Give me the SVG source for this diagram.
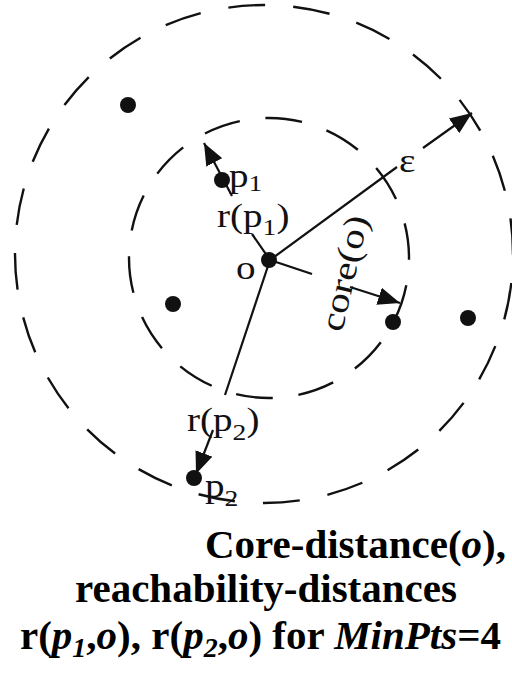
<svg xmlns="http://www.w3.org/2000/svg" width="512" height="673" viewBox="0 0 512 673">
<defs>
<marker id="ah" viewBox="0 0 22 18" refX="22" refY="9" markerWidth="22" markerHeight="18" markerUnits="userSpaceOnUse" orient="auto"><path d="M0,0 L22,9 L0,18 z" fill="#111"/></marker>
</defs>
<style>
.ring{fill:none;stroke:#111;stroke-width:2.4}
.dot{fill:#111}
.ln{stroke:#111;stroke-width:2.2;fill:none}
.lbl{font-family:"Liberation Serif","Times New Roman",serif;font-size:34px;fill:#111}
.sub{font-size:24px}
.cap{font-family:"Liberation Serif","Times New Roman",serif;font-size:41px;font-weight:bold;fill:#000}
.it{font-style:italic}
</style>
<rect width="512" height="673" fill="#fff"/>
<g id="rings">
<circle class="ring" cx="264" cy="254" r="249" stroke-dasharray="37 28.17" stroke-dashoffset="36"/>
<circle class="ring" cx="269" cy="258" r="140" stroke-dasharray="37 25.83" stroke-dashoffset="35.3"/>
</g>
<g id="connectors">
<path class="ln" d="M270,260 L397,167"/>
<path class="ln" d="M423,148 L472,113" marker-end="url(#ah)"/>
<path class="ln" d="M270,260 L312,274"/>
<path class="ln" d="M350,287 L400,303" marker-end="url(#ah)"/>
<path class="ln" d="M270,260 L252,234"/>
<path class="ln" d="M232,196 L204,143" marker-end="url(#ah)"/>
<path class="ln" d="M270,260 L225,395"/>
<path class="ln" d="M213,430 L196,474" marker-end="url(#ah)"/>
</g>
<g id="o">
<circle class="dot" cx="269" cy="260" r="8"/>
<text class="lbl" transform="translate(236,279) scale(1.15,1)">o</text>
</g>
<g id="p1">
<circle class="dot" cx="222" cy="180" r="8"/>
<text class="lbl" transform="translate(229,187) scale(1.15,1)">p<tspan class="sub" dy="4">1</tspan></text>
</g>
<g id="p2">
<circle class="dot" cx="194" cy="478" r="8"/>
<text class="lbl" transform="translate(205,497) scale(1.15,1)">p<tspan class="sub" dy="9">2</tspan></text>
</g>
<g id="q1"><circle class="dot" cx="393" cy="322" r="8"/></g>
<g id="q2"><circle class="dot" cx="128" cy="105" r="8"/></g>
<g id="q3"><circle class="dot" cx="173" cy="304" r="8"/></g>
<g id="q4"><circle class="dot" cx="468" cy="318" r="8"/></g>
<g id="labels">
<text class="lbl" transform="translate(217,227) scale(1.15,1)">r(p<tspan class="sub" dy="8">1</tspan><tspan dy="-8">)</tspan></text>
<text class="lbl" transform="translate(187,431) scale(1.15,1)">r(p<tspan class="sub" dy="9">2</tspan><tspan dy="-9">)</tspan></text>
<text class="lbl" transform="translate(399,172) scale(1.15,1)">ε</text>
<text class="lbl" transform="translate(342,333) rotate(-77) scale(1.2,1)">core(o)</text>
</g>
<g id="caption">
<text class="cap" x="205" y="558">Core-distance(<tspan class="it">o</tspan>),</text>
<text class="cap" x="75" y="602">reachability-distances</text>
<text class="cap" x="20" y="649">r(<tspan class="it">p</tspan><tspan class="it" font-size="28" dy="8">1</tspan><tspan dy="-8">,</tspan><tspan class="it">o</tspan>), r(<tspan class="it">p</tspan><tspan class="it" font-size="28" dy="8">2</tspan><tspan dy="-8">,</tspan><tspan class="it">o</tspan>) for <tspan class="it">MinPts</tspan>=4</text>
</g>
</svg>
